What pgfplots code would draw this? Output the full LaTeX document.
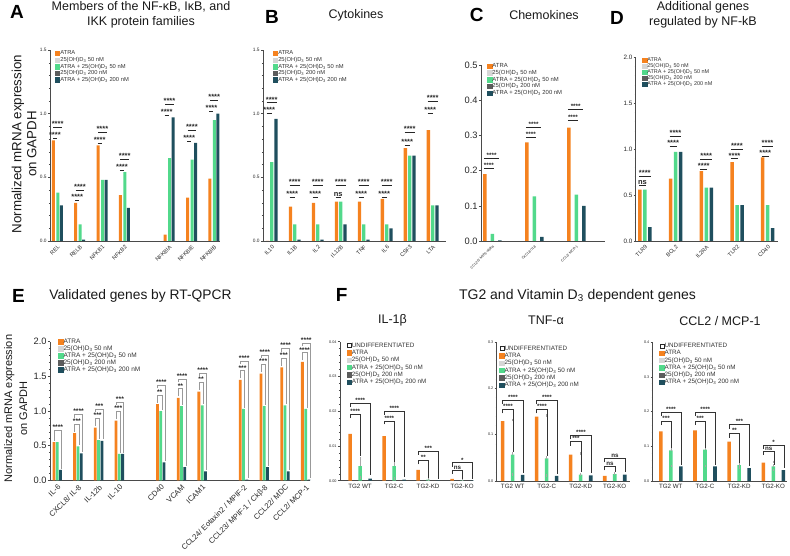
\documentclass[border=0pt]{standalone}
\usepackage{fontspec}
\setmainfont{Liberation Sans}
\usepackage{pgfplots}
\pgfplotsset{compat=1.18}

\definecolor{cATRA}{HTML}{F5821F}
\definecolor{cD50}{HTML}{D6D6D6}
\definecolor{cAD50}{HTML}{52D98B}
\definecolor{cD200}{HTML}{5C5C5C}
\definecolor{cAD200}{HTML}{1F4F5E}
\definecolor{axgray}{HTML}{4A4A4A}

\newcommand\fs[1]{\fontsize{#1}{#1}\selectfont}
\newcommand\sgfont{\bfseries\fs{7.5}}

\tikzset{
  sgl/.style={draw=black!85, line width=0.45pt},
  brkl/.style={draw=black!80, line width=0.45pt},
  sgt/.style={font=\sgfont, text=black!85, inner sep=0pt, anchor=base},
}

% significance mark: x, y of line, left/right offsets (pt), text
\newcommand\sig[5]{%
  \draw[sgl] ([xshift=#3pt]axis cs:#1,#2) -- ([xshift=#4pt]axis cs:#1,#2);
  \node[sgt] at ([xshift={(#3+#4)*0.5pt},yshift=0.7pt]axis cs:#1,#2) {#5};}
% bracket: x, y of line, left/right offsets (pt), left foot, right foot, text
\newcommand\brk[7]{%
  \draw[brkl] ([xshift=#3pt]axis cs:#1,#5) |- ([xshift=#4pt]axis cs:#1,#2) -- ([xshift=#4pt]axis cs:#1,#6);
  \node[sgt] at ([xshift={(#3+#4)*0.5pt},yshift=0.7pt]axis cs:#1,#2) {#7};}

\pgfplotsset{
  sqleg/.style={legend image code/.code={\fill[#1] (0pt,-2.3pt) rectangle (4.4pt,2.1pt);}},
  sqlegw/.style={legend image code/.code={\draw[fill=white,draw=black!85,line width=0.45pt] (0.2pt,-2.1pt) rectangle (4.2pt,1.9pt);}},
  bO/.style={ybar, fill=cATRA, draw=none, forget plot},
  bG/.style={ybar, fill=cAD50, draw=none, forget plot},
  bT/.style={ybar, fill=cAD200, draw=none, forget plot},
  panel/.style={
    scale only axis, anchor=south west, clip=false,
    axis x line*=bottom, axis y line*=left,
    axis line style={draw=axgray, line width=0.6pt},
    tick align=outside, major tick length=2.2pt, minor tick length=1.2pt,
    tick style={draw=axgray, line width=0.45pt},
    xtick style={draw=none},
    ymin=0, scaled y ticks=false,
    /pgf/number format/assume math mode=true,
    yticklabel style={/pgf/number format/fixed, /pgf/number format/fixed zerofill,
      /pgf/number format/precision=1, inner sep=1pt, text=black!85},
    xticklabel style={text=black!85},
    legend cell align=left,
    legend style={draw=none, fill=none, inner sep=0pt, outer sep=0pt,
      anchor=north west, row sep=0pt, text=black!80},
  },
}

\newcommand\legfive{%
  \addlegendimage{sqleg=cATRA}\addlegendentry{ATRA}%
  \addlegendimage{sqleg=cD50}\addlegendentry{25(OH)D\textsubscript{3} 50 nM}%
  \addlegendimage{sqleg=cAD50}\addlegendentry{ATRA + 25(OH)D\textsubscript{3} 50 nM}%
  \addlegendimage{sqleg=cD200}\addlegendentry{25(OH)D\textsubscript{3} 200 nM}%
  \addlegendimage{sqleg=cAD200}\addlegendentry{ATRA + 25(OH)D\textsubscript{3} 200 nM}%
}
\newcommand\legsix{%
  \addlegendimage{sqlegw}\addlegendentry{UNDIFFERENTIATED}%
  \legfive}

\begin{document}
\begin{tikzpicture}
\path[use as bounding box] (0,0) rectangle (790pt,555pt);

% ---------------- A: NF-kB, IkB and IKK families ----------------
\begin{axis}[panel, at={(50pt,314pt)}, width=170pt, height=191pt,
  xmin=-0.33, xmax=7.27, ymax=1.5,
  ytick={0,0.5,1,1.5}, minor y tick num=4,
  yticklabel style={font=\fs{4.8}},
  xtick={0,1,2,3,5,6,7},
  xticklabels={REL,RELB,NFKB1,NFKB2,NFKBIA,NFKBIE,NFKBIB},
  xticklabel style={rotate=45, anchor=north east, font=\fs{5.6}, inner sep=1pt},
  bar width=3pt,
  legend style={at={(0.03,1.0)}, font=\fs{5.8},
    nodes={inner sep=0.4pt, text height=4.5pt, text depth=1.3pt}},
]
\addplot[bO, bar shift=-4pt] coordinates {(0,0.79)(1,0.30)(2,0.75)(3,0.36)(5,0.05)(6,0.34)(7,0.49)};
\addplot[bG, bar shift=0.5pt] coordinates {(0,0.38)(1,0.13)(2,0.48)(3,0.54)(5,0.65)(6,0.64)(7,0.95)};
\addplot[bT, bar shift=4pt] coordinates {(0,0.28)(1,0.01)(2,0.48)(3,0.26)(5,0.97)(6,0.77)(7,1.00)};
\legfive
\sig{0}{0.806}{-4.5}{-0.5}{****}\sig{0}{0.892}{-4}{4.5}{****}
\sig{1}{0.320}{-4.5}{-0.5}{****}\sig{1}{0.400}{-4}{4.5}{****}
\sig{2}{0.766}{-4.5}{-0.5}{****}\sig{2}{0.852}{-4}{4.5}{****}
\sig{3}{0.556}{-4.5}{-0.5}{****}\sig{3}{0.642}{-4}{4.5}{****}
\sig{5}{0.986}{-4.5}{-0.5}{****}\sig{5}{1.072}{-4}{4.5}{****}
\sig{6}{0.786}{-4.5}{-0.5}{****}\sig{6}{0.872}{-4}{4.5}{****}
\sig{7}{1.016}{-4.5}{-0.5}{****}\sig{7}{1.102}{-4}{4.5}{****}
\end{axis}

% ---------------- B: Cytokines ----------------
\begin{axis}[panel, at={(263pt,314pt)}, width=183pt, height=191pt,
  xmin=-0.38, xmax=7.58, ymax=1.5,
  ytick={0,0.5,1,1.5}, minor y tick num=4,
  yticklabel style={font=\fs{4.8}},
  xtick={0,...,7},
  xticklabels={IL10,IL1B,IL2,IL12B,TNF,IL6,CSF3,LTA},
  xticklabel style={rotate=45, anchor=north east, font=\fs{5.6}, inner sep=1pt},
  bar width=3.3pt,
  legend style={at={(0.055,1.0)}, font=\fs{5.8},
    nodes={inner sep=0.4pt, text height=4.5pt, text depth=1.3pt}},
]
\addplot[bO, bar shift=-4.3pt] coordinates {(0,0)(1,0.27)(2,0.30)(3,0.31)(4,0.31)(5,0.33)(6,0.73)(7,0.87)};
\addplot[bG, bar shift=0pt] coordinates {(0,0.62)(1,0.13)(2,0.13)(3,0.31)(4,0.13)(5,0.13)(6,0.67)(7,0.28)};
\addplot[bT, bar shift=4.3pt] coordinates {(0,0.96)(1,0.01)(2,0.01)(3,0.13)(4,0.01)(5,0.10)(6,0.67)(7,0.28)};
\legfive
\sig{0}{1.003}{-5}{0}{****}\sig{0}{1.086}{-5}{5}{****}
\sig{1}{0.343}{-5}{0}{****}\sig{1}{0.440}{-5}{5}{****}
\sig{2}{0.343}{-5}{0}{****}\sig{2}{0.440}{-5}{5}{****}
\sig{3}{0.343}{-5}{0}{ns}\sig{3}{0.440}{-5}{5}{****}
\sig{4}{0.343}{-5}{0}{****}\sig{4}{0.440}{-5}{5}{****}
\sig{5}{0.343}{-5}{0}{****}\sig{5}{0.440}{-5}{5}{****}
\sig{6}{0.754}{-5}{0}{****}\sig{6}{0.851}{-5}{5}{****}
\sig{7}{1.003}{-5}{0}{****}\sig{7}{1.094}{-5}{5}{****}
\end{axis}

% ---------------- C: Chemokines ----------------
\renewcommand\sgfont{\bfseries\fs{6.3}}
\begin{axis}[panel, at={(481pt,314pt)}, width=124pt, height=176pt,
  xmin=-0.27, xmax=2.68, ymax=0.5,
  ytick={0,0.1,0.2,0.3,0.4,0.5},
  yticklabel style={font=\fs{9.3}},
  xtick={0,1,2},
  xticklabels={CCL20/ MIP3-alpha,CXCL8/ IL8,CCL2/ MCP-1},
  xticklabel style={rotate=45, anchor=north east, font=\fs{3.6}, inner sep=1pt},
  bar width=3.5pt,
  legend style={at={(0.05,1.013)}, font=\fs{5.9},
    nodes={inner sep=0.4pt, text height=4.6pt, text depth=1.3pt}},
]
\addplot[bO, bar shift=-7.5pt] coordinates {(0,0.19)(1,0.28)(2,0.322)};
\addplot[bG, bar shift=0pt] coordinates {(0,0.02)(1,0.127)(2,0.132)};
\addplot[bT, bar shift=7.5pt] coordinates {(0,0.002)(1,0.012)(2,0.10)};
\legfive
\sig{0}{0.207}{-8.5}{1.5}{****}\sig{0}{0.236}{-8.5}{7}{****}
\sig{1}{0.295}{-8.5}{1.5}{****}\sig{1}{0.324}{-8.5}{7}{****}
\sig{2}{0.344}{-8.5}{1.5}{****}\sig{2}{0.374}{-8.5}{7}{****}
\end{axis}

% ---------------- D: additional NF-kB targets ----------------
\renewcommand\sgfont{\bfseries\fs{7.5}}
\begin{axis}[panel, at={(635.7pt,314pt)}, width=142pt, height=183.7pt,
  xmin=-0.30, xmax=4.325, ymax=2,
  ytick={0,0.5,1,1.5,2}, minor y tick num=4,
  yticklabel style={font=\fs{6.3}},
  xtick={0,...,4},
  xticklabels={TLR9,BCL2,IL2RA,TLR2,CD40},
  xticklabel style={rotate=45, anchor=north east, font=\fs{5.6}, inner sep=1pt},
  bar width=3.5pt,
  legend style={at={(0.046,1.0)}, font=\fs{5.5},
    nodes={inner sep=0.3pt, text height=4.3pt, text depth=1.1pt}},
]
\addplot[bO, bar shift=-5pt] coordinates {(0,0.56)(1,0.68)(2,0.76)(3,0.86)(4,0.91)};
\addplot[bG, bar shift=0pt] coordinates {(0,0.56)(1,0.97)(2,0.58)(3,0.39)(4,0.39)};
\addplot[bT, bar shift=5pt] coordinates {(0,0.15)(1,0.97)(2,0.58)(3,0.39)(4,0.14)};
\legfive
\sig{0}{0.606}{-6}{1}{ns}\sig{0}{0.708}{-6}{5.7}{****}
\sig{1}{1.027}{-6}{1}{****}\sig{1}{1.136}{-6}{5.7}{****}
\sig{2}{0.780}{-6}{1}{****}\sig{2}{0.893}{-6}{5.7}{****}
\sig{3}{0.896}{-6}{1}{****}\sig{3}{1.000}{-6}{5.7}{****}
\sig{4}{0.925}{-6}{1}{****}\sig{4}{1.027}{-6}{5.7}{****}
\end{axis}

% ---------------- E: RT-qPCR validation ----------------
\renewcommand\sgfont{\bfseries\fs{6.8}}
\tikzset{brkl/.style={draw=black!40, line width=0.7pt}}
\begin{axis}[panel, at={(50pt,74.7pt)}, width=260pt, height=138.6pt,
  xmin=-0.35, xmax=12.21, ymax=2,
  ytick={0,0.5,1,1.5,2}, minor y tick num=4,
  yticklabel style={font=\fs{9.3}},
  xtick={0,1,2,3,5,6,7,9,10,11,12},
  xticklabels={IL-6,CXCL8/ IL-8,IL-12b,IL-10,CD40,VCAM,ICAM1,
    CCL24/ Eotaxin2 / MPIF-2,CCL23/ MPIF-1 / Ckβ-8,CCL22/ MDC,CCL2/ MCP-1},
  xticklabel style={rotate=45, anchor=north east, font=\fs{7.6}, inner sep=1pt},
  bar width=2.8pt,
  legend style={at={(0.032,1.025)}, font=\fs{6.5},
    nodes={inner sep=0.4pt, text height=5pt, text depth=1.2pt}},
]
\addplot[bO, bar shift=-3.3pt] coordinates {(0,0.55)(1,0.68)(2,0.76)(3,0.86)(5,1.10)(6,1.19)(7,1.28)(9,1.45)(10,1.54)(11,1.63)(12,1.71)};
\addplot[bG, bar shift=0pt] coordinates {(0,0.55)(1,0.49)(2,0.58)(3,0.38)(5,1.00)(6,1.07)(7,1.08)(9,1.03)(10,1.07)(11,1.08)(12,1.03)};
\addplot[bT, bar shift=3.3pt] coordinates {(0,0.15)(1,0.39)(2,0.57)(3,0.38)(5,0.26)(6,0.19)(7,0.13)(9,0.01)(10,0.19)(11,0.13)(12,0.01)};
\legfive
\brk{0}{0.72}{-3.3}{4.5}{0.57}{0.17}{****}
\brk{1}{0.81}{-3.3}{1.2}{0.70}{0.51}{***}\brk{1}{0.95}{-3.3}{4.5}{0.905}{0.41}{****}
\brk{2}{0.89}{-3.3}{1.2}{0.78}{0.60}{***}\brk{2}{1.03}{-3.3}{4.5}{0.985}{0.59}{***}
\brk{3}{0.99}{-3.3}{1.2}{0.88}{0.40}{***}\brk{3}{1.13}{-3.3}{4.5}{1.085}{0.40}{***}
\brk{5}{1.23}{-3.3}{1.2}{1.12}{1.02}{**}\brk{5}{1.37}{-3.3}{4.5}{1.325}{0.28}{****}
\brk{6}{1.32}{-3.3}{1.2}{1.21}{1.09}{**}\brk{6}{1.46}{-3.3}{4.5}{1.415}{0.21}{****}
\brk{7}{1.41}{-3.3}{1.2}{1.30}{1.10}{**}\brk{7}{1.55}{-3.3}{4.5}{1.505}{0.15}{****}
\brk{9}{1.58}{-3.3}{1.2}{1.47}{1.05}{***}\brk{9}{1.72}{-3.3}{4.5}{1.675}{0.03}{****}
\brk{10}{1.67}{-3.3}{1.2}{1.56}{1.09}{***}\brk{10}{1.81}{-3.3}{4.5}{1.765}{0.21}{****}
\brk{11}{1.76}{-3.3}{1.2}{1.65}{1.10}{***}\brk{11}{1.90}{-3.3}{4.5}{1.855}{0.15}{****}
\brk{12}{1.84}{-3.3}{1.2}{1.73}{1.05}{****}\brk{12}{1.98}{-3.3}{4.5}{1.935}{0.03}{****}
\end{axis}

% ---------------- F: TG2 / vitamin D3 dependent genes ----------------
\renewcommand\sgfont{\bfseries\fs{6.2}}
\tikzset{brkl/.style={draw=black!80, line width=0.45pt}}
\pgfplotsset{
  fpanel/.style={panel, minor y tick num=4,
    yticklabel style={font=\fs{3.8}},
    xtick={0,1,2,3}, xticklabels={TG2 WT,TG2-C,TG2-KD,TG2-KO},
    xticklabel style={font=\fs{6.2}, inner sep=1pt},
    bar width=3.6pt,
    error bars/y dir=plus, error bars/y explicit,
    error bars/error mark=-,
    error bars/error bar style={draw=black!35, line width=0.5pt},
    error bars/error mark options={draw=black!35, line width=0.5pt, mark size=1.3pt},
    legend style={font=\fs{6.3}, nodes={inner sep=0.4pt, text height=5pt, text depth=1.5pt}},
  },
}
% IL-1beta
\begin{axis}[fpanel, at={(340pt,74.3pt)}, width=133pt, height=139pt,
  xmin=-0.59, xmax=3.32, ymax=0.04,
  ytick={0,0.01,0.02,0.03,0.04},
  yticklabel style={/pgf/number format/precision=2},
  legend style={at={(0.05,1.0)}},
]
\addplot[bO, bar shift=-10pt] coordinates {(0,0.0135)+-(0,0.004) (1,0.0128)+-(0,0.003) (2,0.0031)+-(0,0.0009) (3,0.0005)+-(0,0.0003)};
\addplot[bG, bar shift=0pt] coordinates {(0,0.0042)+-(0,0.0023) (1,0.0042)+-(0,0.0008) (2,0.0003)+-(0,0.0002) (3,0.0001)+-(0,0.0001)};
\addplot[bT, bar shift=10pt] coordinates {(0,0.0006)+-(0,0.0005) (1,0.0003)+-(0,0.0004) (2,0.0001)+-(0,0.0002) (3,0.0001)+-(0,0.0001)};
\legsix
\brk{0}{0.0191}{-10}{0.5}{0.0180}{0.0070}{****}\brk{0}{0.0223}{-10}{10.5}{0.0212}{0.0016}{****}
\brk{1}{0.0170}{-10}{0.5}{0.0162}{0.0055}{****}\brk{1}{0.0201}{-10}{10.5}{0.0190}{0.0012}{****}
\brk{2}{0.00576}{-10}{0.5}{0.0047}{0.0009}{**}\brk{2}{0.00855}{-10}{10.5}{0.0074}{0.0004}{***}
\brk{3}{0.00308}{-10}{0.5}{0.0020}{0.0004}{ns}\brk{3}{0.00518}{-10}{10.5}{0.0040}{0.0004}{*}
\end{axis}
% TNF-alpha
\begin{axis}[fpanel, at={(496.7pt,74pt)}, width=133.3pt, height=139pt,
  xmin=-0.47, xmax=3.45, ymax=0.3,
  ytick={0,0.1,0.2,0.3},
  legend style={at={(0.02,0.98)}},
]
\addplot[bO, bar shift=-10pt] coordinates {(0,0.129)+-(0,0.003) (1,0.139)+-(0,0.003) (2,0.057)+-(0,0.002) (3,0.011)+-(0,0.001)};
\addplot[bG, bar shift=0pt] coordinates {(0,0.057)+-(0,0.002) (1,0.049)+-(0,0.002) (2,0.014)+-(0,0.001) (3,0.015)+-(0,0.002)};
\addplot[bT, bar shift=10pt] coordinates {(0,0.013)+-(0,0.001) (1,0.011)+-(0,0.001) (2,0.012)+-(0,0.001) (3,0.014)+-(0,0.001)};
\legsix
\brk{0}{0.155}{-10}{0.5}{0.146}{0.063}{****}\brk{0}{0.175}{-10}{10.5}{0.166}{0.018}{****}
\brk{1}{0.155}{-10}{0.5}{0.146}{0.055}{****}\brk{1}{0.175}{-10}{10.5}{0.166}{0.016}{****}
\brk{2}{0.085}{-10}{0.5}{0.076}{0.019}{***}\brk{2}{0.099}{-10}{10.5}{0.090}{0.017}{****}
\brk{3}{0.032}{-10}{0.5}{0.023}{0.020}{ns}\brk{3}{0.049}{-10}{10.5}{0.040}{0.019}{ns}
\end{axis}
% CCL2 / MCP-1
\begin{axis}[fpanel, at={(652.7pt,74pt)}, width=134pt, height=139pt,
  xmin=-0.53, xmax=3.39, ymax=0.4,
  ytick={0,0.1,0.2,0.3,0.4},
  legend style={at={(0.05,1.0)}},
]
\addplot[bO, bar shift=-10pt] coordinates {(0,0.143)+-(0,0.002) (1,0.146)+-(0,0.002) (2,0.113)+-(0,0.002) (3,0.053)+-(0,0.002)};
\addplot[bG, bar shift=0pt] coordinates {(0,0.088)+-(0,0.002) (1,0.090)+-(0,0.002) (2,0.046)+-(0,0.002) (3,0.042)+-(0,0.002)};
\addplot[bT, bar shift=10pt] coordinates {(0,0.042)+-(0,0.001) (1,0.042)+-(0,0.001) (2,0.037)+-(0,0.001) (3,0.031)+-(0,0.001)};
\legsix
\brk{0}{0.173}{-10}{0.5}{0.161}{0.094}{***}\brk{0}{0.199}{-10}{10.5}{0.187}{0.047}{****}
\brk{1}{0.173}{-10}{0.5}{0.161}{0.096}{***}\brk{1}{0.199}{-10}{10.5}{0.187}{0.047}{****}
\brk{2}{0.137}{-10}{0.5}{0.125}{0.051}{**}\brk{2}{0.163}{-10}{10.5}{0.151}{0.042}{***}
\brk{3}{0.087}{-10}{0.5}{0.075}{0.047}{ns}\brk{3}{0.104}{-10}{10.5}{0.092}{0.036}{*}
\end{axis}

% ---------------- panel letters, titles, axis titles ----------------
\tikzset{plet/.style={font=\bfseries\fs{19}}, ttl/.style={font=\fontsize{12.5}{15}\selectfont, align=center, text=black!90}}
\node[plet] at (17pt,543pt) {A};
\node[ttl] at (141pt,540.3pt) {Members of the NF-κB, IκB, and\\IKK protein families};
\node[plet] at (272pt,538.5pt) {B};
\node[ttl] at (356pt,540pt) {Cytokines};
\node[plet] at (476.7pt,540pt) {C};
\node[ttl] at (544pt,540pt) {Chemokines};
\node[plet] at (617pt,537.5pt) {D};
\node[ttl] at (703pt,540.3pt) {Additional genes\\regulated by NF-kB};
\node[plet] at (18.5pt,259pt) {E};
\node[ttl, font=\fs{13.8}] at (140.5pt,259pt) {Validated genes by RT-QPCR};
\node[plet] at (341.7pt,260pt) {F};
\node[ttl, font=\fs{14}] at (577.5pt,259pt) {TG2 and Vitamin D\textsubscript{3} dependent genes};
\node[ttl] at (392.5pt,234.3pt) {IL-1β};
\node[ttl] at (546pt,234.3pt) {TNF-α};
\node[ttl] at (720pt,234.3pt) {CCL2 / MCP-1};

\node[rotate=90, align=center, font=\fontsize{13.3}{15}\selectfont, text=black!90] at (24pt,411pt)
  {Normalized mRNA expression\\on GAPDH};
\node[rotate=90, align=center, font=\fontsize{11}{15}\selectfont, text=black!90] at (15.8pt,146.5pt)
  {Normalized mRNA expression\\on GAPDH};
\end{tikzpicture}
\end{document}
